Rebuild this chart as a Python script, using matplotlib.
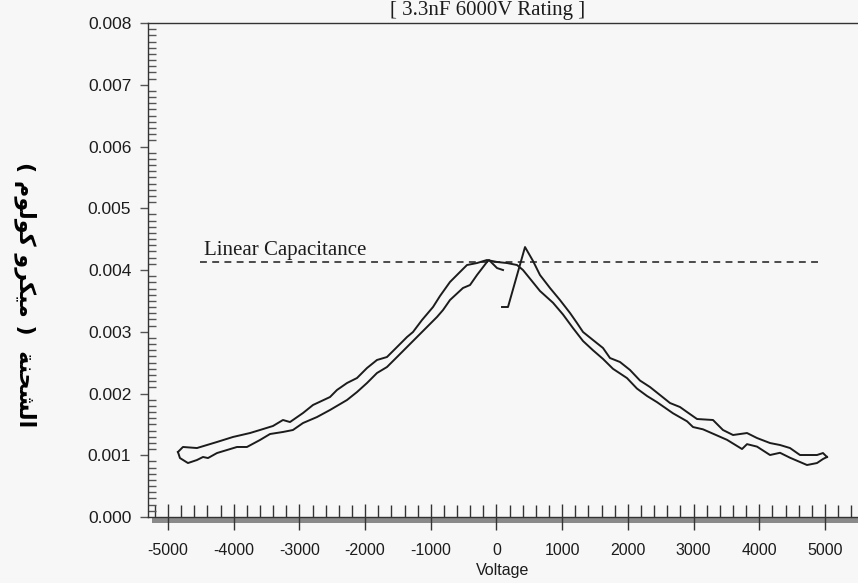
import matplotlib
matplotlib.use("Agg")
import matplotlib.pyplot as plt
from matplotlib.patches import Rectangle
from matplotlib.ticker import MultipleLocator, FormatStrFormatter

plt.rcParams['axes.unicode_minus'] = False

# data (voltage in V, charge in uC) ------------------------------------
# branch A : upper on the left, lower on the right
a_v = [-4848, -4772, -4559, -4254, -4011, -3752, -3600, -3402, -3250, -3143,
       -2945, -2793, -2534, -2428, -2275, -2123, -1971, -1819, -1667, -1514,
       -1362, -1271, -1134, -966, -860, -708, -556, -449, -297, -145,
       8, 160, 312, 403, 510, 662, 860, 1012, 1164, 1317,
       1469, 1621, 1773, 1986, 2138, 2291, 2443, 2686, 2900, 2991,
       3143, 3508, 3737, 3813, 3965, 4163, 4315, 4467, 4726, 4878,
       4969, 5030]
a_q = [1.053, 1.134, 1.117, 1.215, 1.296, 1.360, 1.409, 1.474, 1.571, 1.538,
       1.684, 1.814, 1.943, 2.057, 2.170, 2.251, 2.413, 2.543, 2.591, 2.753,
       2.915, 2.996, 3.190, 3.401, 3.579, 3.806, 3.968, 4.081, 4.113, 4.162,
       4.130, 4.113, 4.081, 4.000, 3.860, 3.660, 3.470, 3.280, 3.060, 2.850,
       2.700, 2.560, 2.400, 2.250, 2.080, 1.960, 1.860, 1.680, 1.550, 1.457,
       1.420, 1.250, 1.101, 1.180, 1.140, 1.004, 1.040, 0.960, 0.842, 0.874,
       0.939, 0.972]

# branch B : lower on the left, ends in a small tail past the peak
b_v = [-4848, -4818, -4696, -4559, -4467, -4391, -4254, -3950, -3798, -3600,
       -3447, -3250, -3098, -2945, -2732, -2534, -2275, -2123, -1971, -1819,
       -1667, -1514, -1362, -1210, -1058, -906, -814, -708, -510, -403,
       -297, -145, -114, 8, 99]
b_q = [1.053, 0.955, 0.874, 0.923, 0.972, 0.955, 1.036, 1.134, 1.134, 1.247,
       1.344, 1.377, 1.409, 1.522, 1.619, 1.733, 1.895, 2.024, 2.170, 2.332,
       2.429, 2.591, 2.753, 2.915, 3.077, 3.239, 3.352, 3.514, 3.709, 3.757,
       3.919, 4.130, 4.162, 4.032, 4.000]

# branch C : spike near 0 V, then upper on the right
c_v = [84, 175, 434, 556, 662, 814, 966, 1119, 1225, 1317,
       1469, 1621, 1727, 1880, 2032, 2184, 2336, 2488, 2641, 2793,
       2900, 3052, 3295, 3447, 3600, 3813, 3965, 4163, 4315, 4467,
       4619, 4878, 4969, 5030]
c_q = [3.401, 3.401, 4.372, 4.146, 3.919, 3.709, 3.514, 3.304, 3.142, 2.996,
       2.866, 2.737, 2.575, 2.510, 2.381, 2.210, 2.105, 1.976, 1.846, 1.781,
       1.700, 1.587, 1.571, 1.409, 1.328, 1.360, 1.279, 1.198, 1.166, 1.117,
       1.004, 1.004, 1.036, 0.972]

lin_cap = 4.13
lin_v = [-4510, 4920]

x_ticks = [-5000, -4000, -3000, -2000, -1000, 0, 1000, 2000, 3000, 4000, 5000]

ink = '#1c1c1c'

# figure ****************************************************************
fig = plt.figure(figsize=(8.58, 5.83), dpi=100, facecolor='#f7f7f7')
ax = fig.add_axes([0.1725, 0.1132, 0.8275, 0.8473], facecolor='#f7f7f7')

scale = 1e-3
ax.plot(a_v, [q * scale for q in a_q], c=ink, lw=1.4)
ax.plot(b_v, [q * scale for q in b_q], c=ink, lw=1.4)
ax.plot(c_v, [q * scale for q in c_q], c=ink, lw=1.4)
ax.plot(lin_v, [lin_cap * scale] * 2, c=ink, lw=1.1, ls=(0, (4.5, 3.5)))
ax.text(-4450, lin_cap * scale + 0.00003, "Linear Capacitance",
        family='Liberation Serif', fontsize=15, color=ink, va='bottom')

ax.set_xlim(-5304, 5502)
ax.set_ylim(0, 0.008)

ax.set_xticks(x_ticks)
ax.xaxis.set_minor_locator(MultipleLocator(200))
ax.yaxis.set_major_locator(MultipleLocator(0.001))
ax.yaxis.set_minor_locator(MultipleLocator(0.0001))
ax.yaxis.set_major_formatter(FormatStrFormatter('%.3f'))

for lab in ax.get_xticklabels() + ax.get_yticklabels():
    lab.set_family('Liberation Sans')
ax.tick_params(axis='x', which='major', direction='inout', length=19,
               width=1, color='#333333', labelsize=11.5, pad=9, labelcolor=ink)
ax.tick_params(axis='x', which='minor', direction='in', length=9,
               width=1, color='#333333')
ax.tick_params(axis='y', which='major', direction='out', length=6,
               width=1, color='#555555', labelsize=12.5, pad=6, labelcolor=ink)
ax.tick_params(axis='y', which='minor', direction='in', length=6,
               width=1, color='#555555')

ax.spines['right'].set_visible(False)
for s in ['left', 'top', 'bottom']:
    ax.spines[s].set_color('#333333')
    ax.spines[s].set_linewidth(1.0)

# grey strip under the x axis, as on the scan
ax.add_patch(Rectangle((0.005, -0.012), 0.995, 0.012, transform=ax.transAxes,
                       facecolor='#8a8a8a', edgecolor='none', clip_on=False))

ax.set_xlabel("Voltage", family='Liberation Sans', fontsize=11.5, color=ink,
              labelpad=4)

# arabic label, written in presentation forms in visual order
kolom = '\uFEE1\uFEEE\uFEDF\uFEEE\uFEDB'
mikro = '\uFEED\uFEAE\uFEDC\uFEF4\uFEE3'
shahna = '\uFE94\uFEE8\uFEA4\uFEB8\uFEDF\uFE8D'
ylab = '( ' + kolom + ' ' + mikro + ' )  ' + shahna
fig.text(0.030, 0.495, ylab, rotation=270, ha='center', va='center',
         family='DejaVu Sans', fontweight='bold', fontsize=16, color='black')

fig.text(0.568, 0.999, "[ 3.3nF 6000V Rating ]", ha='center', va='top',
         family='Liberation Serif', fontsize=15, color=ink)

fig.savefig("out.png", dpi=100, facecolor=fig.get_facecolor())
